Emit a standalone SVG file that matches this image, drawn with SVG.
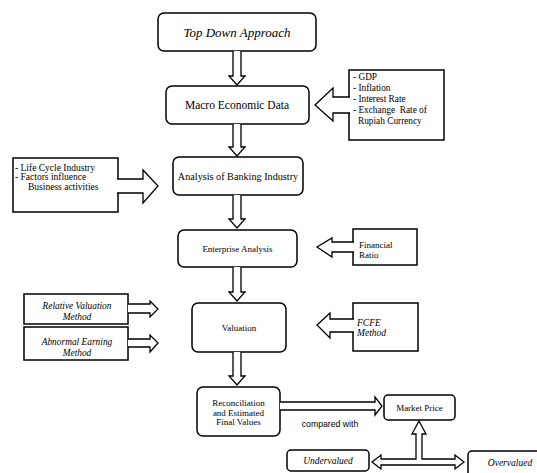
<svg xmlns="http://www.w3.org/2000/svg" width="537" height="473" viewBox="0 0 537 473" font-family="'Liberation Serif', 'Times New Roman', serif">
<style>
.box{fill:#fff;stroke:#000;stroke-width:1.5}
.arr{fill:#fff;stroke:#000;stroke-width:1.3;stroke-linejoin:miter}
text{fill:#000}
.c{text-anchor:middle}
.i{font-style:italic}
.s{font-family:'Liberation Sans',Arial,sans-serif}
</style>
<rect width="537" height="473" fill="#fff"/>
<g id="top-down">
<rect class="box" x="158" y="13" width="158" height="38" rx="6"/>
<text class="c i" x="237" y="36.5" font-size="13">Top Down Approach</text>
</g>
<g id="macro">
<rect class="box" x="166" y="86" width="143" height="38" rx="6"/>
<text class="c" x="237" y="109" font-size="11.5">Macro Economic Data</text>
</g>
<g id="macro-factors">
<rect class="box" x="349" y="70" width="95" height="70"/>
<text x="353" y="80" font-size="9.3">- GDP</text>
<text x="353" y="91" font-size="9.3">- Inflation</text>
<text x="353" y="102" font-size="9.3">- Interest Rate</text>
<text x="353" y="113" font-size="9.3" xml:space="preserve">- Exchange  Rate of</text>
<text x="358" y="124" font-size="9.3">Rupiah Currency</text>
</g>
<g id="banking">
<rect class="box" x="173" y="157" width="130" height="38" rx="6"/>
<text class="c" x="238" y="179.5" font-size="10.2">Analysis of Banking Industry</text>
</g>
<g id="industry-factors">
<rect class="box" x="13" y="158" width="105" height="54"/>
<text x="15" y="170.5" font-size="9.5">- Life Cycle Industry</text>
<text x="15" y="180" font-size="9.5">- Factors influence</text>
<text x="28" y="190" font-size="9.5">Business activities</text>
</g>
<g id="enterprise">
<rect class="box" x="178" y="230" width="119" height="37" rx="6"/>
<text class="c" x="237.5" y="251.5" font-size="9">Enterprise Analysis</text>
</g>
<g id="financial-ratio">
<rect class="box" x="353" y="229" width="64" height="36"/>
<text x="359" y="248" font-size="9">Financial</text>
<text x="359" y="257.5" font-size="9">Ratio</text>
</g>
<g id="valuation">
<rect class="box" x="192" y="303" width="94" height="49" rx="6"/>
<text class="c" x="239" y="330.5" font-size="9">Valuation</text>
</g>
<g id="fcfe">
<rect class="box" x="353" y="303" width="65" height="48"/>
<text class="i" x="357" y="326" font-size="9.5">FCFE</text>
<text class="i" x="357" y="336" font-size="9.5">Method</text>
</g>
<g id="relative">
<rect class="box" x="24" y="294" width="104" height="30"/>
<text class="c i" x="77" y="309" font-size="9.4">Relative Valuation</text>
<text class="c i" x="77" y="320" font-size="9.4">Method</text>
</g>
<g id="abnormal">
<rect class="box" x="24" y="327" width="104" height="33"/>
<text class="c i" x="77" y="345" font-size="9.4">Abnormal Earning</text>
<text class="c i" x="77" y="355.5" font-size="9.4">Method</text>
</g>
<g id="reconciliation">
<rect class="box" x="197" y="387" width="83" height="49" rx="6"/>
<text class="c" x="238.5" y="406" font-size="9">Reconciliation</text>
<text class="c" x="238.5" y="415.5" font-size="9">and Estimated</text>
<text class="c" x="238.5" y="425" font-size="9">Final Values</text>
</g>
<g id="market-price">
<rect class="box" x="384" y="395" width="71" height="25" rx="4"/>
<text class="c" x="419.5" y="410.5" font-size="9">Market Price</text>
</g>
<g id="undervalued">
<rect class="box" x="287" y="450" width="82" height="21" rx="4"/>
<text class="c i" x="328" y="464" font-size="9.5">Undervalued</text>
</g>
<g id="overvalued">
<rect class="box" x="468" y="451" width="80" height="26" rx="4"/>
<text class="c i" x="510" y="466" font-size="9.5">Overvalued</text>
</g>
<g id="connectors">
<path class="arr" d="M233,51 V76 H229 L237,85 L245,76 H241 V51"/>
<path class="arr" d="M233,124 V147 H229 L237,156 L245,147 H241 V124"/>
<path class="arr" d="M233,195 V219 H229 L237,228 L245,219 H241 V195"/>
<path class="arr" d="M233,267 V292 H229 L237,301 L245,292 H241 V267"/>
<path class="arr" d="M233,352 V376 H229 L237,385 L245,376 H241 V352"/>
<path class="arr" d="M350,97 H333 V88 L315,105 L333,121 V113 H350"/>
<path class="arr" d="M117,179 H143 V170 L158,186 L143,203 V193 H117"/>
<path class="arr" d="M354,242 H332 V238 L317,247 L332,257 V252 H354"/>
<path class="arr" d="M354,319 H330 V313 L317,325 L330,338 V332 H354"/>
<path class="arr" d="M128,304 H150 V301 L158,309 L150,317 V313 H128"/>
<path class="arr" d="M128,339 H150 V335 L158,343 L150,352 V347 H128"/>
<path class="arr" d="M280,402 H375 V397 L382,406 L375,415 V410 H280"/>
<path class="arr" d="M372,462 L381,455 V459 H416 V434 H412 L419,421 L426,434 H422 V459 H455 V455 L464,462 L455,469 V465 H381 V469 Z"/>
<text class="c s" x="330" y="427" font-size="8.7">compared with</text>
</g>
</svg>
